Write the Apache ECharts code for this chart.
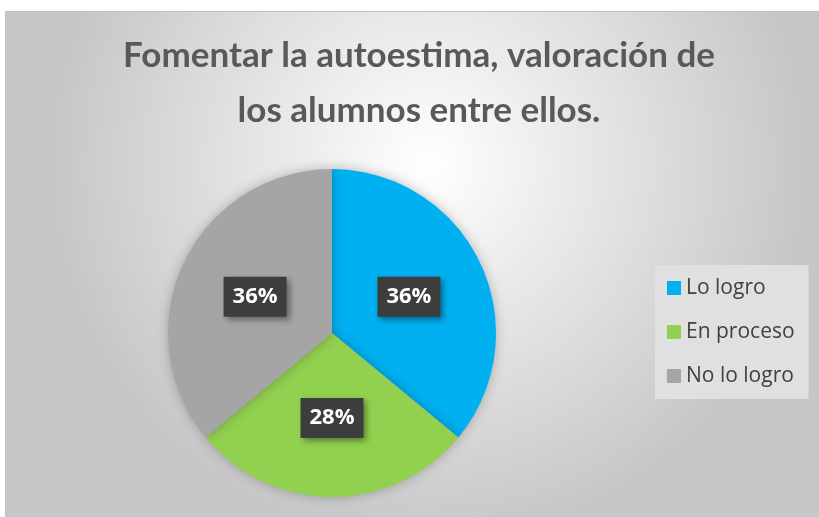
<!DOCTYPE html>
<html>
<head>
<meta charset="utf-8">
<script src="https://cdn.jsdelivr.net/npm/echarts@6/dist/echarts.min.js"></script>
<style>
  html, body { margin: 0; padding: 0; background: #ffffff; }
  #chart { position: absolute; left: 5px; top: 11px; width: 814px; height: 506px; border-top: 1px solid #bdbdbd; }
</style>
</head>
<body>
<div id="chart"></div>
<script>
// datos del gráfico
var titulo = "Fomentar la autoestima, valoración de\nlos alumnos entre ellos.";
var categorias = ["Lo logro", "En proceso", "No lo logro"];
var valores = [36, 28, 36];
var colores = ["#00b0f0", "#92d050", "#a5a5a5"];

var myChart = echarts.init(document.getElementById("chart"));

var option = {
  backgroundColor: {
    type: "radial",
    x: 0.52, y: 0.3, r: 0.75,
    colorStops: [
      { offset: 0, color: "#ffffff" },
      { offset: 1, color: "#c6c6c6" }
    ]
  },
  color: colores,
  title: {
    text: titulo,
    left: 409,
    top: 11,
    textAlign: "center",
    textStyle: {
      fontFamily: "Lato",
      fontSize: 35,
      fontWeight: "bold",
      color: "#595959",
      lineHeight: 55
    }
  },
  legend: {
    orient: "vertical",
    left: 650,
    top: 253,
    padding: [11, 14, 11, 12],
    itemGap: 20,
    itemWidth: 14,
    itemHeight: 14,
    icon: "rect",
    backgroundColor: "#e0e0e0",
    data: categorias,
    textStyle: {
      fontFamily: "Open Sans",
      fontSize: 21,
      lineHeight: 24,
      color: "#404040"
    }
  },
  series: [
    {
      type: "pie",
      center: [327, 321],
      radius: 164,
      startAngle: 90,
      clockwise: true,
      animation: false,
      itemStyle: {
        shadowBlur: 12,
        shadowColor: "rgba(0,0,0,0.25)"
      },
      label: {
        show: true,
        position: "inside",
        formatter: "{c}%",
        fontFamily: "Open Sans",
        fontSize: 22,
        fontWeight: "bold",
        color: "#ffffff",
        backgroundColor: "#3d3d3d",
        padding: [10, 9, 8, 9],
        shadowBlur: 6,
        shadowOffsetX: 3,
        shadowOffsetY: 3,
        shadowColor: "rgba(0,0,0,0.4)"
      },
      labelLine: { show: false },
      data: categorias.map(function (c, i) {
        return { name: c, value: valores[i] };
      })
    }
  ]
};

window.onresize = myChart.resize;
myChart.setOption(option);
</script>
</body>
</html>
